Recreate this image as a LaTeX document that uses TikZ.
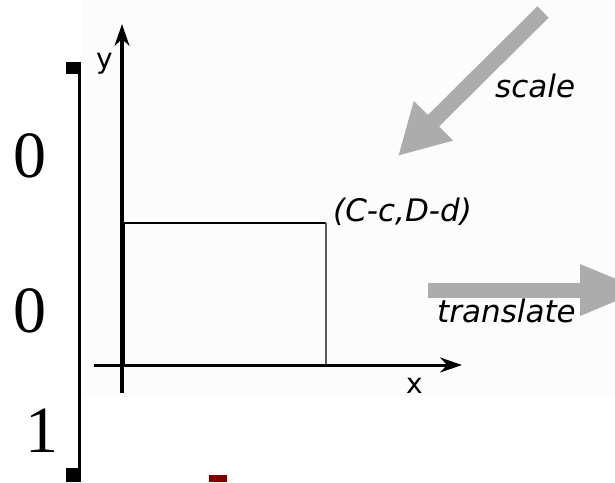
\documentclass[tikz,border=0pt]{standalone}
\usepackage{fontspec}
\setmainfont{Liberation Serif}
\newfontfamily\labfont{DejaVu Sans}
\usetikzlibrary{arrows.meta}
\definecolor{arrowgray}{RGB}{172,172,172}
\definecolor{bgpanel}{RGB}{252,252,252}
\definecolor{darkred}{RGB}{128,0,0}
\definecolor{edgegray}{RGB}{90,90,90}
\begin{document}
\begin{tikzpicture}[x=1pt,y=-1pt,
  lab/.style={font={\labfont\itshape\fontsize{31}{31}\selectfont}, inner sep=0pt, anchor=base west},
  axlab/.style={font={\labfont\fontsize{28}{28}\selectfont}, inner sep=0pt, anchor=base west},
  digit/.style={font={\fontsize{66}{66}\selectfont}, inner sep=0pt, anchor=base},
  axisline/.style={line width=3pt, -{Stealth[length=22pt,width=15pt]}},
  bigarrow/.style={arrowgray, line width=16pt, -{Triangle[length=50pt,width=52pt]}},
  widearrow/.style={arrowgray, line width=15pt, -{Triangle[length=65pt,width=47pt]}}]
\useasboundingbox (0,0) rectangle (615,482);
\clip (0,0) rectangle (615,482);
\fill[white] (0,0) rectangle (615,482);
\fill[bgpanel] (82,0) rectangle (615,397);

% coordinates
\coordinate (ybot) at (122,393);
\coordinate (ytop) at (122,24);
\coordinate (xleft) at (94,365);
\coordinate (xright) at (462,365);
\coordinate (rtl) at (123.5,223);
\coordinate (rtr) at (326,223);
\coordinate (rbr) at (326,365);
\coordinate (rbl) at (123.5,365);
\coordinate (scaleS) at (543,12);
\coordinate (scaleT) at (398,156);
\coordinate (transS) at (428,290);
\coordinate (transT) at (645,290);
\coordinate (brtop) at (79,62);
\coordinate (brbot) at (79,482);

% rectangle
\draw[line width=2pt] (rtl) -- (rtr);
\draw[line width=1.5pt, edgegray] (rtr) -- (rbr);
\draw[line width=3.5pt] (rtl) -- (rbl);

% axes
\draw[axisline, line width=3.5pt] (ybot) -- (ytop);
\draw[axisline] (xleft) -- (xright);
\node[axlab] (ylab) at (96,68) {y};
\node[axlab] (xlab) at (406,393) {x};

% corner label
\node[lab] (corner) at (333,221) {(C-c,D-d)};

% transformation arrows
\draw[bigarrow] (scaleS) -- (scaleT);
\node[lab] (scalelab) at (495,97) {scale};
\draw[widearrow] (transS) -- (transT);
\node[lab] (translab) at (437,322) {translate};

% bracket
\draw[line width=3pt] (brtop) -- (brbot);
\fill (66,62) rectangle (81,74);
\fill (66,468) rectangle (81,482);
\node[digit] (d1) at (30,177) {0};
\node[digit] (d2) at (30,332) {0};
\node[digit] (d3) at (42,452) {1};

% red mark
\fill[darkred] (209,475) rectangle (227,482);
\end{tikzpicture}
\end{document}
